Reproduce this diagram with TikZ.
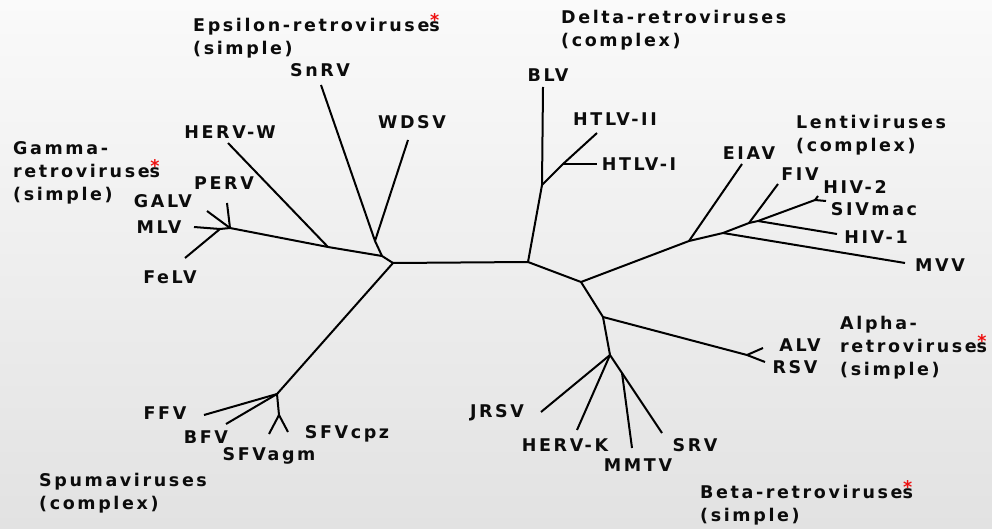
\documentclass[tikz,border=0pt]{standalone}
\usepackage{fontspec}
\setmainfont{DejaVu Sans}[LetterSpace=15]
\usepackage{tikz}
\usepackage{xcolor}
\definecolor{inkBlack}{HTML}{0C0C0C}
\definecolor{starRed}{HTML}{EE1111}
\definecolor{bgTop}{HTML}{FAFAFA}
\definecolor{bgBottom}{HTML}{E2E2E2}
\newcommand{\starS}{\ooalign{s\cr\hidewidth\raisebox{0.32em}{\textcolor{starRed}{*}}\hidewidth\cr}}

\begin{document}
\begin{tikzpicture}[
  x=1pt, y=-1pt,
  font=\fontsize{17.5}{23}\selectfont\bfseries,
  branch/.style={
    draw=black,
    line width=2pt,
    line join=round
  },
  virus/.style={
    text=inkBlack,
    inner sep=0pt
  },
  genus/.style={
    text=inkBlack,
    inner sep=0pt,
    align=left,
    anchor=west
  }
]

  % background
  \shade[top color=bgTop, bottom color=bgBottom] (0,0) rectangle (992,529);

  % ----------------------------------------------------
  % BRANCH POINTS AND TIPS
  % ----------------------------------------------------
  \coordinate (root) at (393,263);
  \coordinate (ge_jn) at (382,256);
  \coordinate (delta_base) at (528,262);

  % epsilon
  \coordinate (eps_jn) at (375,241);
  \coordinate (snrv_tip) at (321,85);
  \coordinate (wdsv_tip) at (408,140);

  % gamma
  \coordinate (hervw_jn) at (328,247);
  \coordinate (hervw_tip) at (228,143);
  \coordinate (gam_jn) at (230,228);
  \coordinate (perv_tip) at (227,203);
  \coordinate (galv_tip) at (207,211);
  \coordinate (mlv_jn) at (220,229);
  \coordinate (mlv_tip) at (194,227);
  \coordinate (felv_tip) at (185,258);

  % spuma
  \coordinate (spuma_jn) at (277,394);
  \coordinate (ffv_tip) at (204,415);
  \coordinate (bfv_tip) at (226,424);
  \coordinate (sfv_jn) at (279,415);
  \coordinate (sfvagm_tip) at (269,434);
  \coordinate (sfvcpz_tip) at (288,432);

  % delta
  \coordinate (delta_jn) at (542,185);
  \coordinate (blv_tip) at (543,87);
  \coordinate (htlv_jn) at (563,164);
  \coordinate (htlv2_tip) at (597,133);
  \coordinate (htlv1_tip) at (597,164);

  % lenti
  \coordinate (ret_jn) at (581,282);
  \coordinate (lenti_jn) at (689,241);
  \coordinate (eiav_tip) at (742,164);
  \coordinate (mvv_jn) at (723,233);
  \coordinate (mvv_tip) at (905,263);
  \coordinate (fiv_jn) at (749,223);
  \coordinate (fiv_tip) at (778,184);
  \coordinate (hiv_jn) at (758,221);
  \coordinate (hiv1_tip) at (837,234);
  \coordinate (siv_jn) at (815,200);
  \coordinate (hiv2_tip) at (818,196);
  \coordinate (sivmac_tip) at (826,201);

  % alpha
  \coordinate (alpha_jn) at (603,317);
  \coordinate (alv_jn) at (747,355);
  \coordinate (alv_tip) at (763,348);
  \coordinate (rsv_tip) at (765,362);

  % beta
  \coordinate (beta_jn) at (610,355);
  \coordinate (jrsv_tip) at (541,412);
  \coordinate (hervk_tip) at (577,430);
  \coordinate (mmtv_jn) at (622,373);
  \coordinate (mmtv_tip) at (632,448);
  \coordinate (srv_tip) at (662,433);

  % ----------------------------------------------------
  % BRANCHES
  % ----------------------------------------------------
  \draw[branch] (root) -- (delta_base);
  \draw[branch] (root) -- (ge_jn);
  \draw[branch] (ge_jn) -- (eps_jn) -- (snrv_tip);
  \draw[branch] (eps_jn) -- (wdsv_tip);
  \draw[branch] (ge_jn) -- (hervw_jn) -- (gam_jn) -- (mlv_jn) -- (mlv_tip);
  \draw[branch] (hervw_jn) -- (hervw_tip);
  \draw[branch] (gam_jn) -- (perv_tip);
  \draw[branch] (gam_jn) -- (galv_tip);
  \draw[branch] (mlv_jn) -- (felv_tip);

  \draw[branch] (root) -- (spuma_jn) -- (ffv_tip);
  \draw[branch] (spuma_jn) -- (bfv_tip);
  \draw[branch] (spuma_jn) -- (sfv_jn) -- (sfvagm_tip);
  \draw[branch] (sfv_jn) -- (sfvcpz_tip);

  \draw[branch] (delta_base) -- (delta_jn) -- (blv_tip);
  \draw[branch] (delta_jn) -- (htlv_jn) -- (htlv2_tip);
  \draw[branch] (htlv_jn) -- (htlv1_tip);

  \draw[branch] (delta_base) -- (ret_jn) -- (lenti_jn) -- (eiav_tip);
  \draw[branch] (lenti_jn) -- (mvv_jn) -- (mvv_tip);
  \draw[branch] (mvv_jn) -- (fiv_jn) -- (fiv_tip);
  \draw[branch] (fiv_jn) -- (hiv_jn) -- (hiv1_tip);
  \draw[branch] (hiv_jn) -- (siv_jn) -- (hiv2_tip);
  \draw[branch] (siv_jn) -- (sivmac_tip);

  \draw[branch] (ret_jn) -- (alpha_jn) -- (alv_jn) -- (alv_tip);
  \draw[branch] (alv_jn) -- (rsv_tip);
  \draw[branch] (alpha_jn) -- (beta_jn) -- (jrsv_tip);
  \draw[branch] (beta_jn) -- (hervk_tip);
  \draw[branch] (beta_jn) -- (mmtv_jn) -- (mmtv_tip);
  \draw[branch] (mmtv_jn) -- (srv_tip);

  % ----------------------------------------------------
  % TIP LABELS
  % ----------------------------------------------------
  \node[virus] (snrv) at (320,70) {SnRV};
  \node[virus] (wdsv) at (412,122) {WDSV};
  \node[virus] (hervw) at (230,132) {HERV-W};
  \node[virus] (perv) at (224,183) {PERV};
  \node[virus] (galv) at (163,201) {GALV};
  \node[virus] (mlv) at (159,227) {MLV};
  \node[virus] (felv) at (170,277) {FeLV};
  \node[virus] (ffv) at (165,413) {FFV};
  \node[virus] (bfv) at (206,437) {BFV};
  \node[virus] (sfvagm) at (269,456) {SFVagm};
  \node[virus] (sfvcpz) at (347,434) {SFVcpz};
  \node[virus] (blv) at (548,75) {BLV};
  \node[virus] (htlv2) at (615,119) {HTLV-II};
  \node[virus] (htlv1) at (639,164) {HTLV-I};
  \node[virus] (eiav) at (749,153) {EIAV};
  \node[virus] (fiv) at (800,174) {FIV};
  \node[virus] (hiv2) at (855,187) {HIV-2};
  \node[virus] (sivmac) at (874,209) {SIVmac};
  \node[virus] (hiv1) at (876,237) {HIV-1};
  \node[virus] (mvv) at (940,265) {MVV};
  \node[virus] (alv) at (800,345) {ALV};
  \node[virus] (rsv) at (795,367) {RSV};
  \node[virus] (jrsv) at (497,413) {JRSV};
  \node[virus] (hervk) at (565,445) {HERV-K};
  \node[virus] (mmtv) at (638,465) {MMTV};
  \node[virus] (srv) at (695,445) {SRV};

  % ----------------------------------------------------
  % GENUS LABELS
  % ----------------------------------------------------
  \node[genus] (g_epsilon) at (193,38.5) {Epsilon-retroviruse\starS\\(simple)};
  \node[genus] (g_gamma) at (13,173) {Gamma-\\retroviruse\starS\\(simple)};
  \node[genus] (g_spuma) at (39,493) {Spumaviruses\\(complex)};
  \node[genus] (g_delta) at (561,30.5) {Delta-retroviruses\\(complex)};
  \node[genus] (g_lenti) at (796,135) {Lentiviruses\\(complex)};
  \node[genus] (g_alpha) at (840,348) {Alpha-\\retroviruse\starS\\(simple)};
  \node[genus] (g_beta) at (700,505.5) {Beta-retroviruse\starS\\(simple)};

  \useasboundingbox (0,0) rectangle (992,529);
\end{tikzpicture}
\end{document}
